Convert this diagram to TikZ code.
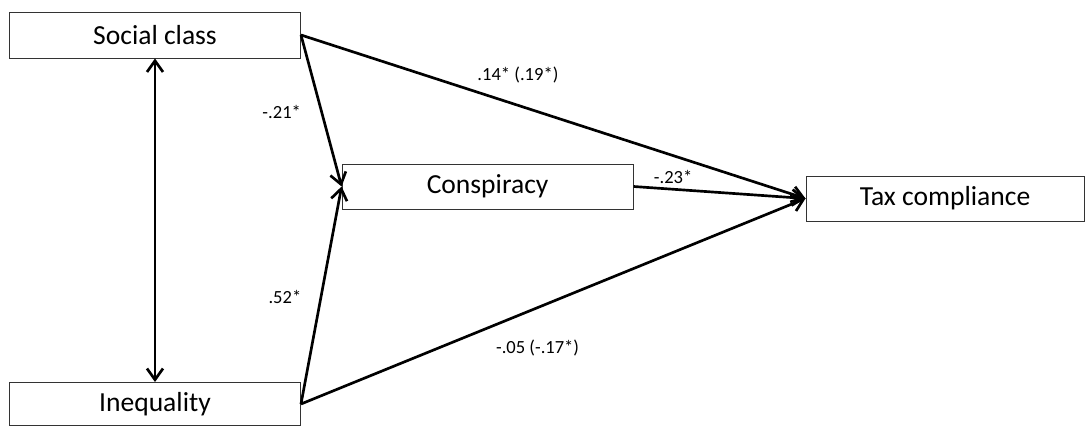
\documentclass[tikz,border=0pt]{standalone}
\usepackage{fontspec}
\setmainfont{Carlito}
\usetikzlibrary{arrows.meta}

\tikzset{
    spitze/.tip={Straight Barb[length=2.8mm,width=4mm,line width=1.9pt]},
    kasten/.style={draw=black!80, line width=0.7pt, minimum width=7.275cm, minimum height=1.125cm, inner sep=0pt, font=\fontsize{19.6}{22}\selectfont},
    pfeil/.style={line width=1.9pt, -spitze},
    wert/.style={font=\fontsize{13.2}{15}\selectfont}
}

\begin{document}
\begin{tikzpicture}
    \useasboundingbox (0,0) rectangle (27.125,10.65);
    \path node[kasten, minimum height=1.15cm] (SC) at (3.875,9.775) {Social class}
        node[kasten, minimum height=1.075cm] (IN) at (3.875,0.55) {Inequality}
        node[kasten] (CO) at (12.19,5.9875) {Conspiracy}
        node[kasten, minimum width=6.95cm] (TC) at (23.625,5.6875) {Tax compliance};
        \draw[pfeil, spitze-spitze] (SC) -- (IN);
        \draw[pfeil] (SC.east) -- node[wert, pos=0.51, xshift=-1cm] {-.21*} (CO.west);
        \draw[pfeil] (IN.east) -- node[wert, pos=0.49, xshift=-0.9cm] {.52*} (CO.west);
        \draw[pfeil] (SC.east) -- node[wert, pos=0.43, yshift=0.75cm] {.14* (.19*)} (TC.west);
        \draw[pfeil] (CO.east) -- node[wert, pos=0.23, yshift=0.31cm] {-.23*} (TC.west);
        \draw[pfeil] (IN.east) -- node[wert, pos=0.469, yshift=-1cm] {-.05 (-.17*)} (TC.west);
\end{tikzpicture}
\end{document}
